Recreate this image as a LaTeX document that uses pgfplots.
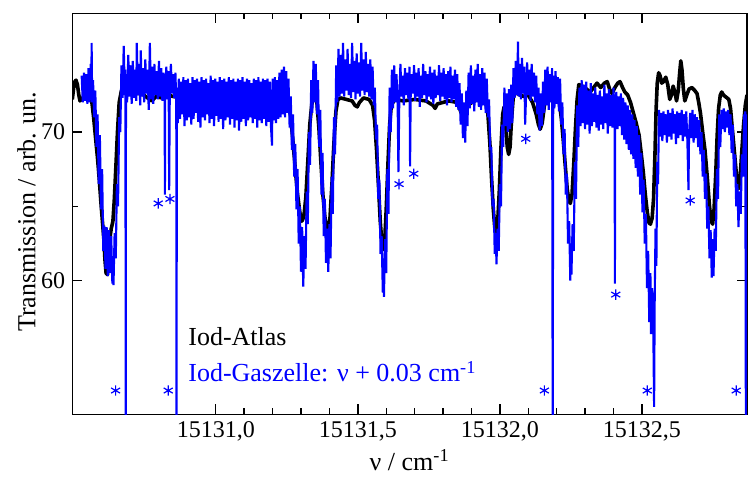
\documentclass[border=0pt]{standalone}
\usepackage{fontspec}
\setmainfont{Liberation Serif}
\usepackage{pgfplots}
\pgfplotsset{compat=1.18}
% x values are given as (wavenumber - 15130) cm^-1 to keep full precision
\begin{document}
\begin{tikzpicture}
\useasboundingbox (-36.15pt,-31.35pt) rectangle (337.85pt,207.15pt);
\begin{axis}[
  at={(0pt,0pt)}, anchor=south west,
  scale only axis, width=337.35pt, height=200.5pt,
  xmin=0.495, xmax=2.870, ymin=51, ymax=78,
  xtick={1,1.5,2,2.5},
  xticklabels={{15131,0},{15131,5},{15132,0},{15132,5}},
  minor x tick num=4,
  ytick={60,70}, yticklabels={60,70},
  minor y tick num=1,
  tick align=inside,
  major tick length=5pt, minor tick length=3pt,
  axis line style={line width=0.8pt},
  every tick/.style={line width=0.7pt, black},
  /pgf/number format/assume math mode=true,
  tick label style={font=\fontsize{12}{14}\selectfont},
  label style={font=\fontsize{13}{15}\selectfont},
  xlabel={ν / cm\textsuperscript{-1}},
  ylabel={Transmission / arb. un.},
  xlabel style={at={(axis description cs:0.5,-0.114)}, anchor=center},
  ylabel style={at={(axis description cs:-0.068,0.505)}, anchor=center},
]
% Iod-Atlas
\addplot[black, line width=1.8pt, line join=round] coordinates {
(0.495,72.2) (0.500,73.0) (0.504,73.4) (0.508,73.5) (0.513,73.2) (0.518,72.5) (0.522,72.1) (0.527,72.2) (0.535,72.4) (0.548,72.5) (0.558,72.4) (0.564,72.0) (0.570,71.0) (0.577,69.6) (0.584,68.2) (0.590,66.8) (0.596,65.2) (0.601,64.0) (0.606,62.8) (0.610,61.4) (0.614,60.5) (0.619,60.4) (0.623,61.2) (0.627,62.8) (0.632,63.5) (0.638,64.0) (0.643,65.5) (0.648,67.5) (0.654,70.0) (0.660,72.0) (0.668,72.8) (0.680,72.7) (0.700,72.9) (0.720,72.6) (0.740,72.6) (0.760,72.3) (0.775,72.1) (0.790,72.4) (0.810,72.3) (0.830,72.5) (0.850,72.4) (0.880,72.3) (0.920,72.4) (0.960,72.2) (1.000,72.3) (1.050,72.1) (1.100,72.2) (1.150,72.1) (1.200,72.2) (1.240,72.3) (1.256,71.9) (1.264,71.0) (1.272,69.3) (1.280,67.5) (1.288,65.8) (1.296,64.6) (1.303,64.0) (1.310,64.3) (1.317,65.6) (1.324,68.0) (1.331,70.5) (1.338,71.9) (1.345,72.4) (1.350,72.5) (1.356,72.0) (1.363,70.3) (1.370,68.0) (1.377,65.8) (1.384,64.3) (1.390,63.6) (1.396,63.4) (1.402,64.2) (1.409,66.5) (1.416,69.3) (1.423,71.4) (1.430,72.2) (1.440,72.3) (1.460,72.2) (1.480,72.1) (1.490,71.8) (1.498,71.7) (1.506,72.0) (1.520,72.3) (1.540,72.2) (1.552,71.8) (1.559,70.8) (1.566,68.8) (1.573,66.3) (1.579,64.0) (1.585,62.5) (1.590,62.1) (1.595,62.8) (1.600,64.8) (1.606,67.8) (1.612,70.5) (1.618,71.8) (1.630,72.2) (1.660,72.1) (1.700,72.2) (1.740,72.1) (1.765,71.8) (1.772,71.6) (1.780,71.9) (1.820,72.1) (1.850,72.0) (1.870,71.0) (1.885,71.8) (1.920,72.2) (1.950,72.0) (1.958,71.2) (1.965,69.2) (1.971,66.8) (1.977,64.8) (1.982,63.6) (1.987,63.3) (1.992,63.8) (1.998,66.0) (2.004,69.0) (2.010,71.2) (2.015,71.7) (2.020,70.6) (2.026,69.0) (2.031,68.5) (2.036,69.0) (2.041,70.8) (2.047,72.3) (2.055,72.7) (2.070,72.5) (2.085,72.4) (2.100,72.5) (2.115,72.0) (2.128,71.2) (2.136,70.5) (2.142,70.2) (2.149,70.6) (2.157,71.8) (2.166,72.7) (2.180,72.9) (2.195,72.7) (2.208,72.2) (2.216,71.0) (2.223,69.5) (2.230,67.8) (2.237,66.2) (2.243,65.4) (2.248,65.2) (2.254,65.8) (2.260,67.8) (2.266,70.2) (2.272,72.2) (2.278,73.2) (2.290,73.1) (2.305,72.9) (2.318,72.7) (2.330,73.0) (2.342,73.3) (2.355,73.0) (2.368,73.3) (2.378,73.4) (2.388,72.8) (2.395,72.6) (2.405,73.0) (2.415,73.3) (2.423,73.4) (2.432,73.0) (2.440,72.7) (2.450,72.5) (2.460,72.0) (2.470,71.3) (2.480,70.6) (2.490,69.8) (2.498,68.5) (2.505,67.3) (2.512,65.8) (2.519,64.6) (2.525,63.9) (2.530,63.8) (2.536,64.2) (2.541,65.5) (2.546,68.5) (2.550,71.5) (2.554,73.3) (2.559,74.0) (2.564,73.8) (2.570,73.3) (2.576,73.4) (2.584,73.7) (2.591,73.2) (2.598,72.2) (2.604,72.5) (2.610,73.1) (2.616,72.7) (2.622,72.1) (2.628,72.8) (2.633,74.0) (2.637,74.8) (2.641,74.2) (2.646,72.9) (2.651,72.1) (2.658,72.5) (2.666,72.9) (2.676,73.0) (2.686,72.8) (2.694,72.6) (2.700,72.0) (2.706,71.3) (2.714,70.0) (2.722,68.8) (2.730,67.0) (2.738,65.0) (2.744,64.0) (2.749,63.8) (2.754,64.8) (2.760,67.2) (2.765,69.8) (2.770,71.6) (2.776,72.5) (2.781,72.7) (2.787,72.5) (2.793,72.4) (2.800,72.3) (2.806,72.2) (2.812,71.6) (2.818,70.3) (2.825,68.8) (2.832,67.3) (2.838,66.2) (2.842,66.2) (2.847,67.3) (2.852,68.8) (2.858,70.5) (2.864,71.8) (2.870,72.5)
};
% Iod-Gaszelle
\addplot[blue, line width=1.05pt, line join=miter, miter limit=2] coordinates {
(0.528,73.8) (0.532,72.0) (0.536,74.0) (0.540,72.1) (0.544,73.9) (0.548,71.9) (0.552,74.3) (0.556,72.0) (0.560,74.6) (0.562,72.2) (0.563,76.0) (0.565,72.0)
(0.568,73.5) (0.572,71.0) (0.576,72.8) (0.580,69.0) (0.584,71.2) (0.588,66.5) (0.592,69.8) (0.596,64.8) (0.600,67.5)
(0.604,62.0) (0.608,63.7) (0.612,60.8) (0.616,63.6) (0.620,60.3) (0.624,63.4) (0.628,60.5) (0.632,63.0) (0.636,59.8) (0.638,61.5) (0.640,59.7) (0.644,63.2)
(0.648,61.5) (0.652,66.5) (0.656,65.0) (0.660,71.0) (0.664,70.0) (0.668,74.5)
(0.672,72.3) (0.676,75.8) (0.680,72.5) (0.682,74.2) (0.683,50.0) (0.684,73.9) (0.688,72.0) (0.692,75.2) (0.696,72.4) (0.700,74.5) (0.704,71.9) (0.708,74.8) (0.712,72.3) (0.716,74.2) (0.720,72.1) (0.722,76.0) (0.726,72.5) (0.730,74.6) (0.734,71.8) (0.736,75.5) (0.740,72.4) (0.744,74.3) (0.748,72.0) (0.752,74.9) (0.756,72.6) (0.760,74.2) (0.764,71.5) (0.768,76.0) (0.772,72.2) (0.776,74.4) (0.780,71.9) (0.784,74.6) (0.788,72.5) (0.792,74.1) (0.796,72.2) (0.800,74.8) (0.804,72.4) (0.808,74.3) (0.812,72.1) (0.816,74.0) (0.820,72.4) (0.821,65.8) (0.822,72.5) (0.826,74.4) (0.830,72.2) (0.834,74.1) (0.836,66.1) (0.838,72.3) (0.842,74.6) (0.846,72.6) (0.850,73.9) (0.854,72.3) (0.858,74.0) (0.861,72.0) (0.862,50.0) (0.863,73.0)
(0.866,70.6) (0.870,73.6) (0.874,70.9) (0.878,73.4) (0.882,71.2) (0.886,73.7) (0.890,70.4) (0.894,73.5) (0.898,70.8) (0.902,73.6) (0.906,71.0) (0.910,73.3) (0.914,70.5) (0.918,73.7) (0.922,70.9) (0.926,73.5) (0.930,71.3) (0.934,73.6) (0.938,70.7) (0.942,73.4) (0.946,70.3) (0.950,73.7) (0.954,71.0) (0.958,73.5) (0.962,70.8) (0.966,73.6) (0.970,71.2) (0.974,73.3) (0.978,70.6) (0.982,73.8) (0.986,70.9) (0.990,73.5) (0.994,70.4) (0.998,73.6)
(1.002,71.1) (1.006,73.4) (1.010,70.7) (1.014,73.7) (1.018,70.9) (1.022,73.5) (1.026,70.2) (1.030,73.6) (1.034,70.8) (1.038,73.4) (1.042,71.0) (1.046,73.7) (1.050,70.5) (1.054,73.5) (1.058,70.9) (1.062,73.6) (1.066,70.3) (1.070,73.4) (1.074,70.8) (1.078,73.6) (1.082,70.1) (1.086,73.5) (1.090,70.7) (1.094,73.7) (1.098,70.9) (1.102,73.4) (1.106,70.4) (1.110,73.6) (1.114,70.8) (1.118,73.5) (1.122,71.0) (1.126,73.3) (1.130,70.6) (1.134,73.6) (1.138,70.9) (1.142,73.5) (1.146,70.3) (1.150,73.7) (1.154,70.8) (1.158,73.4) (1.162,70.6) (1.166,73.6) (1.170,70.9) (1.174,73.5) (1.178,70.4) (1.182,73.6) (1.186,70.7) (1.190,73.4) (1.194,70.5) (1.198,69.1) (1.200,73.6) (1.204,70.8) (1.208,73.7) (1.212,70.6) (1.216,73.5) (1.220,70.9) (1.224,74.0) (1.228,71.0) (1.232,74.2) (1.236,71.2) (1.240,74.4) (1.244,71.0) (1.248,74.1) (1.252,71.3)
(1.256,73.6) (1.260,70.3) (1.264,72.4) (1.268,68.8) (1.272,71.2) (1.276,67.0) (1.280,69.2) (1.284,64.8) (1.288,67.5) (1.292,62.5) (1.296,65.0) (1.300,60.6) (1.304,63.6) (1.308,59.6) (1.312,63.0) (1.316,60.8) (1.320,66.0) (1.324,63.8) (1.328,70.0) (1.332,67.8) (1.336,73.5) (1.340,71.3) (1.344,74.8) (1.348,72.0) (1.352,74.6) (1.356,71.2) (1.360,73.5) (1.364,69.0) (1.368,71.5) (1.372,65.8) (1.376,68.6) (1.380,63.0) (1.384,65.5) (1.388,61.2) (1.392,63.5) (1.396,60.6) (1.400,63.8) (1.404,61.5) (1.408,67.0) (1.412,64.5) (1.416,71.0) (1.420,68.5) (1.424,74.5) (1.428,72.0) (1.432,75.6) (1.436,72.4)
(1.440,75.2) (1.444,72.6) (1.448,76.0) (1.452,72.4) (1.456,74.9) (1.460,72.8) (1.464,75.6) (1.468,72.5) (1.472,74.6) (1.476,72.3) (1.480,76.0) (1.484,72.7) (1.488,74.8) (1.492,72.2) (1.496,75.3) (1.500,72.6) (1.504,74.7) (1.508,72.4) (1.512,76.0) (1.516,72.8) (1.520,74.9) (1.524,72.5) (1.528,75.4) (1.532,72.7) (1.536,74.6) (1.540,72.4) (1.544,74.9) (1.548,72.2) (1.552,74.4) (1.556,71.8)
(1.560,73.0) (1.564,69.5) (1.568,70.5) (1.572,65.5) (1.576,66.8) (1.580,61.8) (1.584,63.0) (1.588,59.2) (1.590,61.5) (1.592,58.9) (1.596,62.8) (1.600,60.5) (1.604,67.5) (1.608,64.5) (1.612,73.0) (1.616,70.0)
(1.620,74.2) (1.624,71.6) (1.628,74.5) (1.632,72.0) (1.636,73.9) (1.640,72.3) (1.643,67.3) (1.646,72.1) (1.650,74.6) (1.654,72.4) (1.658,73.8) (1.662,71.8) (1.666,74.3) (1.670,72.5) (1.674,74.0) (1.678,72.2) (1.682,74.4) (1.684,67.7) (1.686,72.3) (1.690,73.9) (1.694,72.6) (1.698,74.5) (1.702,72.1) (1.706,74.0) (1.710,72.4) (1.714,74.3) (1.718,71.7) (1.722,73.8) (1.726,72.3) (1.730,74.6) (1.734,72.5) (1.738,74.1) (1.742,72.0) (1.746,73.9) (1.750,72.4) (1.754,74.4) (1.758,72.2) (1.762,74.0) (1.766,71.9) (1.770,74.2) (1.774,72.3) (1.778,73.8) (1.782,72.5) (1.786,74.5) (1.790,72.1) (1.794,74.0) (1.798,72.4) (1.802,74.3) (1.806,72.2) (1.810,73.9) (1.814,71.8) (1.818,74.1) (1.822,72.3) (1.826,74.4) (1.830,72.0) (1.834,73.8) (1.838,72.2) (1.842,74.2) (1.846,71.7) (1.850,73.9) (1.854,71.5)
(1.858,73.3) (1.862,70.5) (1.866,72.6) (1.870,69.6) (1.874,72.0) (1.878,69.3) (1.882,72.8) (1.886,70.4)
(1.890,74.0) (1.894,71.6) (1.898,74.5) (1.902,71.9) (1.906,73.8) (1.910,71.4) (1.914,74.2) (1.918,72.0) (1.922,74.6) (1.926,71.7) (1.930,73.9) (1.934,71.5) (1.938,74.3) (1.942,71.8) (1.946,74.0) (1.950,71.3) (1.954,73.6) (1.958,71.0)
(1.962,72.2) (1.966,68.8) (1.970,69.0) (1.974,65.0) (1.978,65.5) (1.982,61.8) (1.986,63.2) (1.988,61.1) (1.992,63.5) (1.996,62.0) (2.000,66.5) (2.004,65.0) (2.008,70.5) (2.012,69.0)
(2.016,73.0) (2.020,70.4) (2.024,72.6) (2.028,70.0) (2.032,72.9) (2.036,70.2) (2.040,73.2) (2.044,70.6)
(2.048,74.3) (2.052,72.3) (2.056,74.8) (2.060,72.5) (2.064,76.1) (2.066,72.4) (2.070,74.6) (2.074,72.2) (2.078,75.0) (2.082,72.6) (2.086,74.4) (2.089,70.5) (2.092,72.3) (2.096,74.7) (2.100,72.5) (2.104,74.2) (2.108,72.1) (2.112,74.6) (2.116,72.4) (2.120,74.0) (2.124,72.0) (2.128,73.8)
(2.132,71.2) (2.136,73.0) (2.140,70.1) (2.144,72.6) (2.148,70.4) (2.152,73.4) (2.156,71.3)
(2.160,74.2) (2.164,71.8) (2.168,74.4) (2.172,71.5) (2.176,73.9) (2.180,72.0) (2.184,74.3) (2.186,50.0) (2.188,73.8) (2.192,71.6) (2.196,74.1) (2.200,71.9) (2.204,73.7) (2.208,71.4) (2.212,73.6)
(2.216,70.5) (2.220,72.0) (2.224,68.5) (2.228,70.2) (2.232,65.8) (2.236,67.2) (2.240,62.5) (2.244,64.0) (2.248,60.0) (2.250,62.5) (2.252,60.4) (2.256,63.8) (2.260,62.0) (2.264,68.0) (2.268,65.5) (2.272,71.8) (2.276,69.0) (2.280,73.0)
(2.284,70.4) (2.288,73.5) (2.292,70.6) (2.296,73.2) (2.300,70.2) (2.304,73.4) (2.308,70.5) (2.312,72.8) (2.316,69.9) (2.320,73.3) (2.324,70.4) (2.328,72.6) (2.332,70.7) (2.336,73.0) (2.340,70.3) (2.344,72.5) (2.348,70.1) (2.352,72.8) (2.356,70.5) (2.360,72.4) (2.364,70.2) (2.368,73.2) (2.372,70.6) (2.376,72.6) (2.380,69.9) (2.384,72.9) (2.388,70.4) (2.392,72.5) (2.396,70.3) (2.400,73.0) (2.404,70.5) (2.405,59.8) (2.406,70.8) (2.410,72.7) (2.414,70.2) (2.418,72.4) (2.422,70.4) (2.426,72.6) (2.430,69.8)
(2.434,72.3) (2.438,69.5) (2.442,72.0) (2.446,69.2) (2.450,71.8) (2.454,68.8) (2.458,71.5) (2.462,68.5) (2.466,71.2) (2.470,68.2) (2.474,70.8) (2.478,67.6) (2.482,70.4) (2.486,67.0) (2.490,69.8) (2.494,65.8) (2.498,68.6) (2.502,64.6)
(2.506,66.8) (2.510,62.5) (2.514,64.5) (2.518,59.5) (2.522,62.0) (2.526,57.2) (2.530,60.5) (2.532,56.4) (2.536,59.5) (2.540,57.0) (2.543,51.5) (2.545,58.5) (2.548,63.5) (2.551,61.0) (2.554,68.0) (2.557,66.5)
(2.560,71.5) (2.564,69.7) (2.568,71.3) (2.572,69.4) (2.576,71.4) (2.580,69.8) (2.584,71.2) (2.588,69.3) (2.592,71.5) (2.596,69.7) (2.600,71.3) (2.604,69.5) (2.608,71.6) (2.612,69.9) (2.616,71.2) (2.620,69.2) (2.624,71.4) (2.628,69.6) (2.632,71.3) (2.636,69.8) (2.640,71.5) (2.644,69.4) (2.648,71.2) (2.652,69.7) (2.656,71.4) (2.660,69.5) (2.664,66.1) (2.666,69.9) (2.670,71.3) (2.674,69.6) (2.678,71.5) (2.682,69.3) (2.686,71.2) (2.690,69.6) (2.694,71.0) (2.698,69.0)
(2.702,70.8) (2.706,68.5) (2.710,70.0) (2.714,67.0) (2.718,68.8) (2.722,65.5) (2.726,67.2) (2.730,63.5) (2.734,65.0) (2.738,61.5) (2.742,63.4) (2.746,60.2) (2.750,62.8) (2.752,60.3) (2.756,63.5) (2.760,62.0) (2.764,67.5) (2.768,65.5)
(2.772,71.2) (2.776,69.0) (2.780,71.5) (2.784,70.2) (2.788,71.6) (2.792,70.0) (2.796,71.4) (2.800,70.3) (2.804,71.5) (2.808,69.8) (2.812,71.2)
(2.816,68.6) (2.820,70.5) (2.824,67.0) (2.828,68.5) (2.832,65.0) (2.836,66.5) (2.840,63.6) (2.844,66.0) (2.848,64.5) (2.852,68.5) (2.856,67.0) (2.860,71.2)
(2.862,70.0) (2.864,71.4) (2.866,50.0) (2.868,70.5) (2.870,71.2)
};
% asterisks
\addplot[blue, only marks, mark=asterisk, mark size=2.6pt, mark options={line width=0.6pt}] coordinates {
(0.6475,52.6) (0.8327,52.6) (0.7975,65.2) (0.8387,65.5) (1.6451,66.5) (1.6968,67.2) (2.0912,69.55) (2.1567,52.6) (2.408,59.06) (2.519,52.6) (2.670,65.4) (2.832,52.6)
};
\node[anchor=base west, inner sep=0pt, font=\fontsize{13}{15}\selectfont] at (rel axis cs:0.1714,0.1727) {Iod-Atlas};
\node[anchor=base west, inner sep=0pt, font=\fontsize{13}{15}\selectfont, text=blue] at (rel axis cs:0.1714,0.0812) {Iod-Gaszelle: ν + 0.03 cm\textsuperscript{-1}};
\end{axis}
\end{tikzpicture}
\end{document}
